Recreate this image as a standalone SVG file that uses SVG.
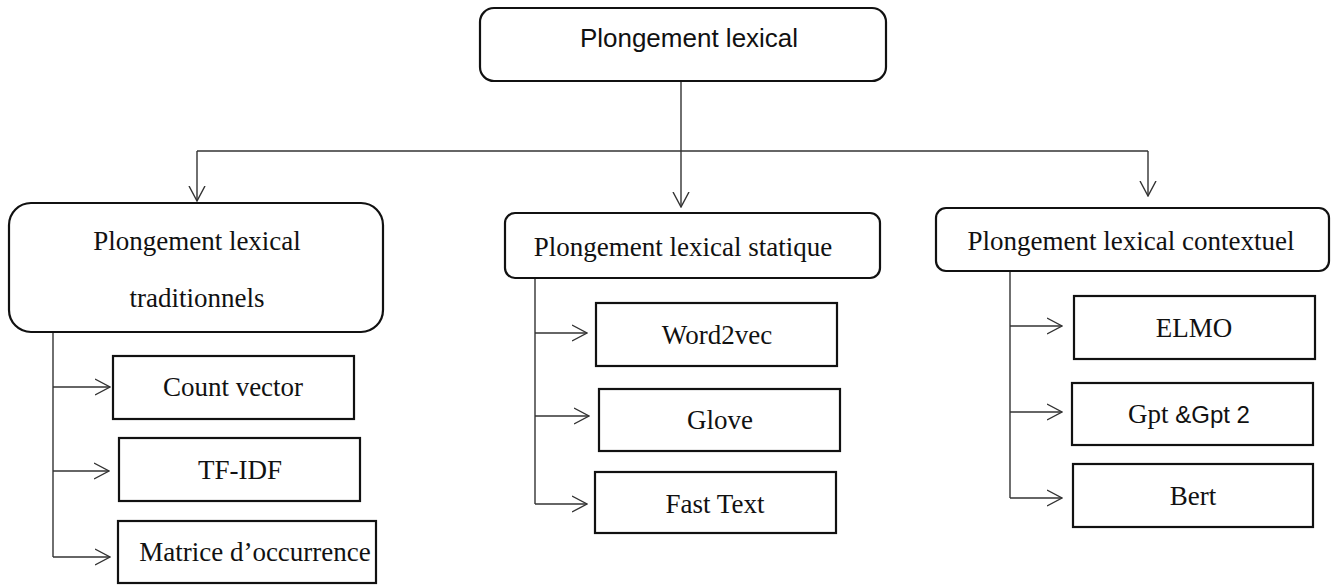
<svg xmlns="http://www.w3.org/2000/svg" width="1335" height="586" viewBox="0 0 1335 586">
<style>
.rbox{fill:#fff;stroke:#111;stroke-width:2.2}
.box{fill:#fff;stroke:#111;stroke-width:2.2}
.serif{font-family:"Liberation Serif","DejaVu Serif",serif;font-size:27px;fill:#111;text-anchor:middle}
.sans{font-family:"Liberation Sans",Arial,sans-serif;font-size:26px;fill:#111;text-anchor:middle}
.ln{fill:none;stroke:#333;stroke-width:1.4}
.ar{fill:none;stroke:#333;stroke-width:1.4;marker-end:url(#v)}
</style>
<defs>
<marker id="v" viewBox="0 0 16 18" refX="15" refY="9" markerWidth="16" markerHeight="18" markerUnits="userSpaceOnUse" orient="auto">
<path d="M0,1 L15,9 L0,17" fill="none" stroke="#333" stroke-width="1.4"/>
</marker>
</defs>
<g id="connectors">
<path class="ln" d="M681,81 V151"/>
<path class="ln" d="M197,151 H1148"/>
<path class="ar" d="M681,151 V207"/>
<path class="ar" d="M197,151 V201"/>
<path class="ar" d="M1148,151 V196"/>
<path class="ln" d="M53,332 V557"/>
<path class="ar" d="M53,387 H110"/>
<path class="ar" d="M53,471 H109"/>
<path class="ar" d="M53,557 H110"/>
<path class="ln" d="M535,278 V504"/>
<path class="ar" d="M535,333 H587"/>
<path class="ar" d="M535,416 H589"/>
<path class="ar" d="M535,504 H587"/>
<path class="ln" d="M1010,271 V498"/>
<path class="ar" d="M1010,326 H1062"/>
<path class="ar" d="M1010,412 H1062"/>
<path class="ar" d="M1010,498 H1062"/>
</g>
<g id="root">
<rect class="rbox" x="480" y="8" width="406" height="73" rx="14"/>
<text class="sans" x="689" y="47">Plongement lexical</text>
</g>
<g id="traditionnels">
<rect class="rbox" x="9" y="203" width="374" height="129" rx="22"/>
<text class="serif" x="197" y="250">Plongement lexical</text>
<text class="serif" x="197" y="307">traditionnels</text>
</g>
<g id="count-vector">
<rect class="box" x="113" y="356" width="241" height="63"/>
<text class="serif" x="233" y="396">Count vector</text>
</g>
<g id="tf-idf">
<rect class="box" x="119" y="438" width="241" height="63"/>
<text class="serif" x="240" y="479">TF-IDF</text>
</g>
<g id="matrice">
<rect class="box" x="118" y="521" width="258" height="62"/>
<text class="serif" x="255" y="561">Matrice d’occurrence</text>
</g>
<g id="statique">
<rect class="rbox" x="505" y="213" width="375" height="65" rx="10"/>
<text class="serif" x="683" y="256">Plongement lexical statique</text>
</g>
<g id="word2vec">
<rect class="box" x="596" y="303" width="241" height="63"/>
<text class="serif" x="717" y="344">Word2vec</text>
</g>
<g id="glove">
<rect class="box" x="599" y="389" width="241" height="62"/>
<text class="serif" x="720" y="429">Glove</text>
</g>
<g id="fasttext">
<rect class="box" x="595" y="472" width="241" height="61"/>
<text class="serif" x="715" y="513">Fast Text</text>
</g>
<g id="contextuel">
<rect class="rbox" x="936" y="208" width="393" height="63" rx="10"/>
<text class="serif" x="1131" y="250">Plongement lexical contextuel</text>
</g>
<g id="elmo">
<rect class="box" x="1074" y="296" width="241" height="63"/>
<text class="serif" x="1194" y="337">ELMO</text>
</g>
<g id="gpt">
<rect class="box" x="1072" y="383" width="241" height="62"/>
<text x="1128" y="423" style="font-size:27px;fill:#111"><tspan style="font-family:'Liberation Serif','DejaVu Serif',serif">Gpt </tspan><tspan style="font-family:'Liberation Sans',Arial,sans-serif;font-size:24px">&amp;Gpt 2</tspan></text>
</g>
<g id="bert">
<rect class="box" x="1073" y="464" width="240" height="63"/>
<text class="serif" x="1193" y="505">Bert</text>
</g>
</svg>
